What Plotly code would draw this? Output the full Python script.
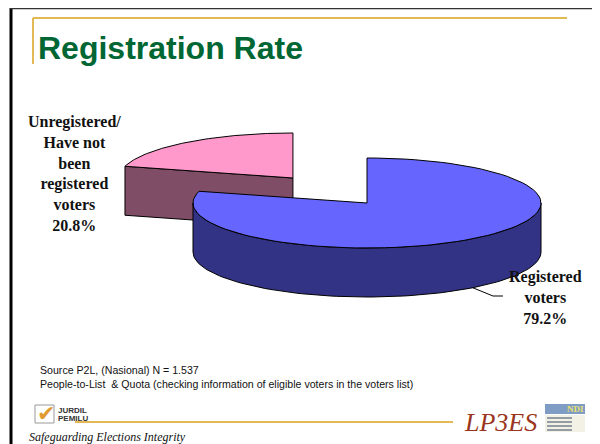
import math
import plotly.graph_objects as go

# ---- data ----
categories = ["Registered<br>voters", "Unregistered/<br>Have not<br>been<br>registered<br>voters"]
shares = [79.2, 20.8]
top_colors = ["#6666FF", "#FF99CC"]
side_colors = ["#333385", "#804D66"]
title_text = "Registration Rate"
source_lines = ["Source P2L, (Nasional) N = 1.537",
                "People-to-List  & Quota (checking information of eligible voters in the voters list)"]

# ---- geometry / style ----
W, H = 600, 444
PAGE_OFF = 8               # browser default body margin
CX, CY = 367, 203          # centre of pie top face (px)
A, B = 174, 45             # ellipse semi-axes
DEPTH = 49                 # extrusion
EXPLODE = [0.0, 0.70]      # per-slice explode fraction
LBL_POS = [(545, 297), (74, 173)]


def ept(phi, cx, cy, dy=0.0):
    r = math.radians(phi)
    return cx + A * math.sin(r), cy - B * math.cos(r) + dy


def arc(p0, p1, cx, cy, dy=0.0, n=90):
    pts = []
    for i in range(n + 1):
        pts.append(ept(p0 + (p1 - p0) * i / n, cx, cy, dy))
    return pts


total = sum(shares)
slices = []
start = 0.0
for i, v in enumerate(shares):
    sweep = 360.0 * v / total
    mid = start + sweep / 2
    r = math.radians(mid)
    cx = CX + EXPLODE[i] * A * math.sin(r)
    cy = CY - EXPLODE[i] * B * math.cos(r)
    slices.append(dict(p0=start, p1=start + sweep, mid=mid, cx=cx, cy=cy))
    start += sweep

fig = go.Figure()


def poly(pts, fill, width=1):
    xs = [p[0] for p in pts] + [pts[0][0]]
    ys = [p[1] for p in pts] + [pts[0][1]]
    fig.add_trace(go.Scatter(x=xs, y=ys, mode="lines", fill="toself", fillcolor=fill,
                             line=dict(color="black", width=width), hoverinfo="skip",
                             showlegend=False))


def visible_sides(s):
    """Return list of polygons for visible side faces of slice s."""
    out = []
    cx, cy = s["cx"], s["cy"]
    lo, hi = max(s["p0"], 90.0), min(s["p1"], 270.0)
    if hi > lo:
        top = arc(lo, hi, cx, cy)
        bot = arc(hi, lo, cx, cy, DEPTH)
        out.append(top + bot)
    for phi, nrm in ((s["p0"], s["p0"] - 90), (s["p1"], s["p1"] + 90)):
        if math.cos(math.radians(nrm)) < -0.05:   # facing viewer
            o = ept(phi, cx, cy)
            out.append([(cx, cy), o, (o[0], o[1] + DEPTH), (cx, cy + DEPTH)])
    return out


for i in [1, 0]:
    s = slices[i]
    for pg in visible_sides(s):
        poly(pg, side_colors[i])
    poly([(s["cx"], s["cy"])] + arc(s["p0"], s["p1"], s["cx"], s["cy"]), top_colors[i])

# labels
for i, s in enumerate(slices):
    lx, ly = LBL_POS[i]
    fig.add_annotation(x=lx, y=ly, xref="x", yref="y", showarrow=False,
                       text="<b>%s<br>%.1f%%</b>" % (categories[i], shares[i]),
                       align="center", xanchor="center", yanchor="middle",
                       font=dict(family="Liberation Serif", size=16, color="#111111"))

# leader line for registered label
s0 = slices[0]
lp = ept(s0["mid"], s0["cx"], s0["cy"], DEPTH)
fig.add_trace(go.Scatter(x=[lp[0], LBL_POS[0][0] - 52, LBL_POS[0][0] - 42],
                         y=[lp[1], LBL_POS[0][1] - 1, LBL_POS[0][1] - 1],
                         mode="lines", line=dict(color="black", width=1),
                         hoverinfo="skip", showlegend=False))

# title
fig.add_annotation(x=36, y=48, xref="x", yref="y", showarrow=False, text="<b>%s</b>" % title_text,
                   xanchor="left", yanchor="middle",
                   font=dict(family="Liberation Sans, Arial, sans-serif", size=32, color="#006633"))

# source text
for k, t in enumerate(source_lines):
    fig.add_annotation(x=38, y=370 + 13.5 * k, xref="x", yref="y", showarrow=False, text=t,
                       xanchor="left", yanchor="middle",
                       font=dict(family="Liberation Sans, Arial", size=10.6, color="#111111"))

# footer
fig.add_annotation(x=27, y=437, xref="x", yref="y", showarrow=False,
                   text="<i>Safeguarding Elections Integrity</i>", xanchor="left", yanchor="middle",
                   font=dict(family="Liberation Serif", size=12, color="#111111"))
fig.add_annotation(x=462, y=422, xref="x", yref="y", showarrow=False,
                   text="<i>LP3ES</i>", xanchor="left", yanchor="middle",
                   font=dict(family="Liberation Serif", size=26, color="#9A3520"))
fig.add_annotation(x=56, y=410, xref="x", yref="y", showarrow=False,
                   text="<b>JURDIL</b>", xanchor="left", yanchor="middle",
                   font=dict(family="Liberation Sans", size=8, color="#333333"))
fig.add_annotation(x=56, y=418, xref="x", yref="y", showarrow=False,
                   text="<b>PEMILU</b>", xanchor="left", yanchor="middle",
                   font=dict(family="Liberation Sans", size=8, color="#333333"))
fig.add_annotation(x=46, y=413, xref="x", yref="y", showarrow=False,
                   text="✔", xanchor="center", yanchor="middle",
                   font=dict(family="DejaVu Sans", size=22, color="#E09A30"))

shapes = [
    dict(type="line", x0=11, x1=11, y0=3, y1=H + 10, line=dict(color="black", width=3)),
    dict(type="line", x0=10, x1=W + 10, y0=8.5, y1=8.5, line=dict(color="#333333", width=1.5)),
    dict(type="line", x0=598, x1=598, y0=3, y1=H + 10, line=dict(color="black", width=2)),
    dict(type="line", x0=33, x1=567, y0=18, y1=18, line=dict(color="#D9A21B", width=1.5)),
    dict(type="line", x0=33, x1=33, y0=18, y1=64, line=dict(color="#D9A21B", width=1.5)),
    dict(type="line", x0=75, x1=453, y0=422, y1=422, line=dict(color="#D9A21B", width=1.5)),
    dict(type="rect", x0=35, x1=54, y0=405, y1=423, line=dict(color="#999999", width=1)),
    dict(type="rect", x0=545, x1=585, y0=404, y1=414, fillcolor="#7E9CC4", line=dict(width=0)),
    dict(type="rect", x0=545, x1=585, y0=415, y1=432, fillcolor="#F3F1E6", line=dict(width=0)),
]
for yy in (418, 422, 426, 430):
    shapes.append(dict(type="line", x0=547, x1=572, y0=yy, y1=yy, line=dict(color="#556677", width=1.2)))
fig.add_annotation(x=575, y=409, xref="x", yref="y", showarrow=False, text="<b>NDI</b>",
                   xanchor="center", yanchor="middle",
                   font=dict(family="Liberation Serif", size=9, color="#E8E070"))

fig.update_layout(
    width=W, height=H, autosize=False,
    margin=dict(l=0, r=0, t=0, b=0),
    paper_bgcolor="white", plot_bgcolor="white",
    xaxis=dict(range=[PAGE_OFF, W + PAGE_OFF], visible=False, fixedrange=True),
    yaxis=dict(range=[H + PAGE_OFF, PAGE_OFF], visible=False, fixedrange=True),
    shapes=shapes, showlegend=False,
)

fig.write_html("out.html")
